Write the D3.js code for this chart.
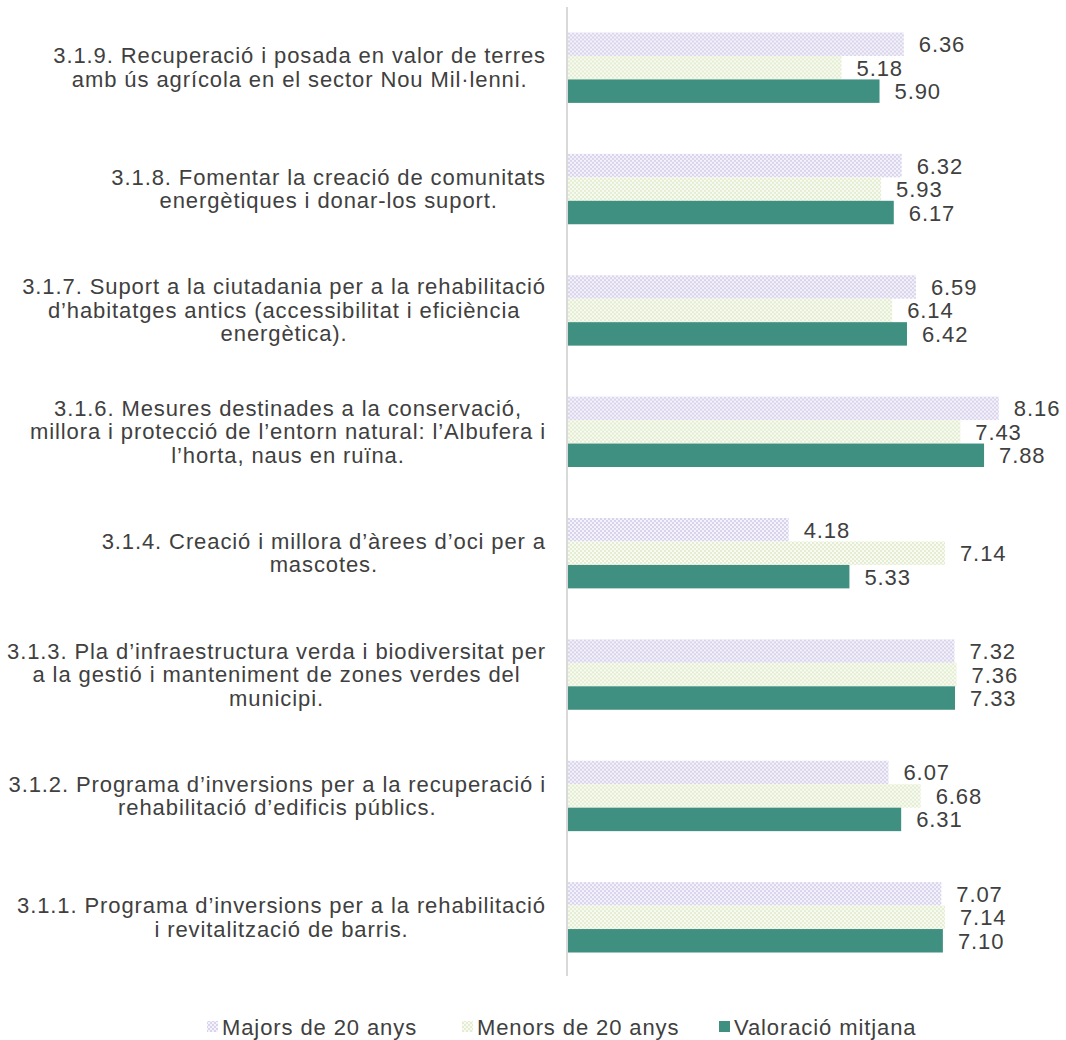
<!DOCTYPE html>
<html>
<head>
<meta charset="utf-8">
<script src="https://cdn.jsdelivr.net/npm/d3@7"></script>
<style>
  html, body { margin: 0; padding: 0; background: #ffffff; }
  svg { display: block; font-family: "Liberation Sans", Arial, sans-serif; }
</style>
</head>
<body>
<svg id="chart" width="1066" height="1040"></svg>
<script>
// Actions, top to bottom, each label split into its printed lines
const categories = ["3.1.9", "3.1.8", "3.1.7", "3.1.6", "3.1.4", "3.1.3", "3.1.2", "3.1.1"];
const categoryLines = [
  ["3.1.9. Recuperació i posada en valor de terres", "amb ús agrícola en el sector Nou Mil·lenni."],
  ["3.1.8. Fomentar la creació de comunitats", "energètiques i donar-los suport."],
  ["3.1.7. Suport a la ciutadania per a la rehabilitació", "d’habitatges antics (accessibilitat i eficiència", "energètica)."],
  ["3.1.6. Mesures destinades a la conservació,", "millora i protecció de l’entorn natural: l’Albufera i", "l’horta, naus en ruïna."],
  ["3.1.4. Creació i millora d’àrees d’oci per a", "mascotes."],
  ["3.1.3. Pla d’infraestructura verda i biodiversitat per", "a la gestió i manteniment de zones verdes del", "municipi."],
  ["3.1.2. Programa d’inversions per a la recuperació i", "rehabilitació d’edificis públics."],
  ["3.1.1. Programa d’inversions per a la rehabilitació", "i revitalització de barris."]
];

// Series names and their values per action
const seriesNames = ["Majors de 20 anys", "Menors de 20 anys", "Valoració mitjana"];
const majors   = [6.36, 6.32, 6.59, 8.16, 4.18, 7.32, 6.07, 7.07];
const menors   = [5.18, 5.93, 6.14, 7.43, 7.14, 7.36, 6.68, 7.14];
const valoracio = [5.90, 6.17, 6.42, 7.88, 5.33, 7.33, 6.31, 7.10];
const seriesValues = [majors, menors, valoracio];

const svg = d3.select("#chart");
const textColor = "#404040";
const fontSize = 22;
const spacing = 0.9;

// Fill patterns: small checkerboards for the two age groups
const defs = svg.append("defs");
function checker(id, dark, light) {
  const p = defs.append("pattern")
    .attr("id", id).attr("patternUnits", "userSpaceOnUse")
    .attr("width", 4).attr("height", 4);
  p.append("rect").attr("width", 4).attr("height", 4).attr("fill", light);
  p.append("rect").attr("width", 2).attr("height", 2).attr("fill", dark);
  p.append("rect").attr("x", 2).attr("y", 2).attr("width", 2).attr("height", 2).attr("fill", dark);
}
checker("patMajors", "#d9d4ec", "#f4f2fa");
checker("patMenors", "#e4edd2", "#f8fbf1");
const fills = ["url(#patMajors)", "url(#patMenors)", "#3f9080"];

// Scales
const x0 = 568;
const x = d3.scaleLinear().domain([0, 9]).range([x0, x0 + 9 * 52.8]);
const y = d3.scaleBand().domain(categories).range([7, 978])
  .paddingInner(0.42).paddingOuter(0.21);
const ySub = d3.scaleBand().domain(d3.range(3)).range([0, y.bandwidth()]);

// Bars and value labels
categories.forEach((c, i) => {
  const g = svg.append("g").attr("transform", `translate(0,${y(c)})`);
  seriesValues.forEach((vals, s) => {
    const v = vals[i];
    g.append("rect")
      .attr("x", x(0)).attr("y", ySub(s))
      .attr("width", x(v) - x(0)).attr("height", ySub.bandwidth())
      .attr("fill", fills[s]);
    g.append("text")
      .attr("x", x(v) + 15)
      .attr("y", ySub(s) + ySub.bandwidth() / 2 + 0.5)
      .attr("dominant-baseline", "central")
      .attr("font-size", fontSize)
      .attr("letter-spacing", spacing)
      .attr("fill", textColor)
      .text(v.toFixed(2));
  });
});

// Category axis line
svg.append("line")
  .attr("x1", x0 - 1).attr("x2", x0 - 1)
  .attr("y1", 7).attr("y2", 976)
  .attr("stroke", "#d9d9d9").attr("stroke-width", 2);

// Category labels: centred block whose widest line ends at the right edge
const labelRight = 546;
const lineH = 23.5;
categories.forEach((c, i) => {
  const lines = categoryLines[i];
  const t = svg.append("text")
    .attr("font-size", fontSize)
    .attr("letter-spacing", spacing)
    .attr("fill", textColor)
    .attr("text-anchor", "middle");
  const cy = y(c) + y.bandwidth() / 2;
  const top = cy - (lines.length - 1) * lineH / 2;
  const spans = lines.map((ln, k) => t.append("tspan")
    .attr("y", top + k * lineH)
    .attr("dominant-baseline", "central")
    .text(ln));
  const maxW = d3.max(spans, sp => sp.node().getComputedTextLength());
  spans.forEach(sp => sp.attr("x", labelRight - maxW / 2));
});

// Legend
const legendX = [207, 462, 719];
const legend = svg.append("g");
seriesNames.forEach((name, s) => {
  legend.append("rect")
    .attr("x", legendX[s]).attr("y", 1021)
    .attr("width", 11).attr("height", 11)
    .attr("fill", fills[s]);
  legend.append("text")
    .attr("x", legendX[s] + 15).attr("y", 1027)
    .attr("dominant-baseline", "central")
    .attr("font-size", fontSize)
    .attr("letter-spacing", spacing)
    .attr("fill", textColor)
    .text(name);
});
</script>
</body>
</html>
